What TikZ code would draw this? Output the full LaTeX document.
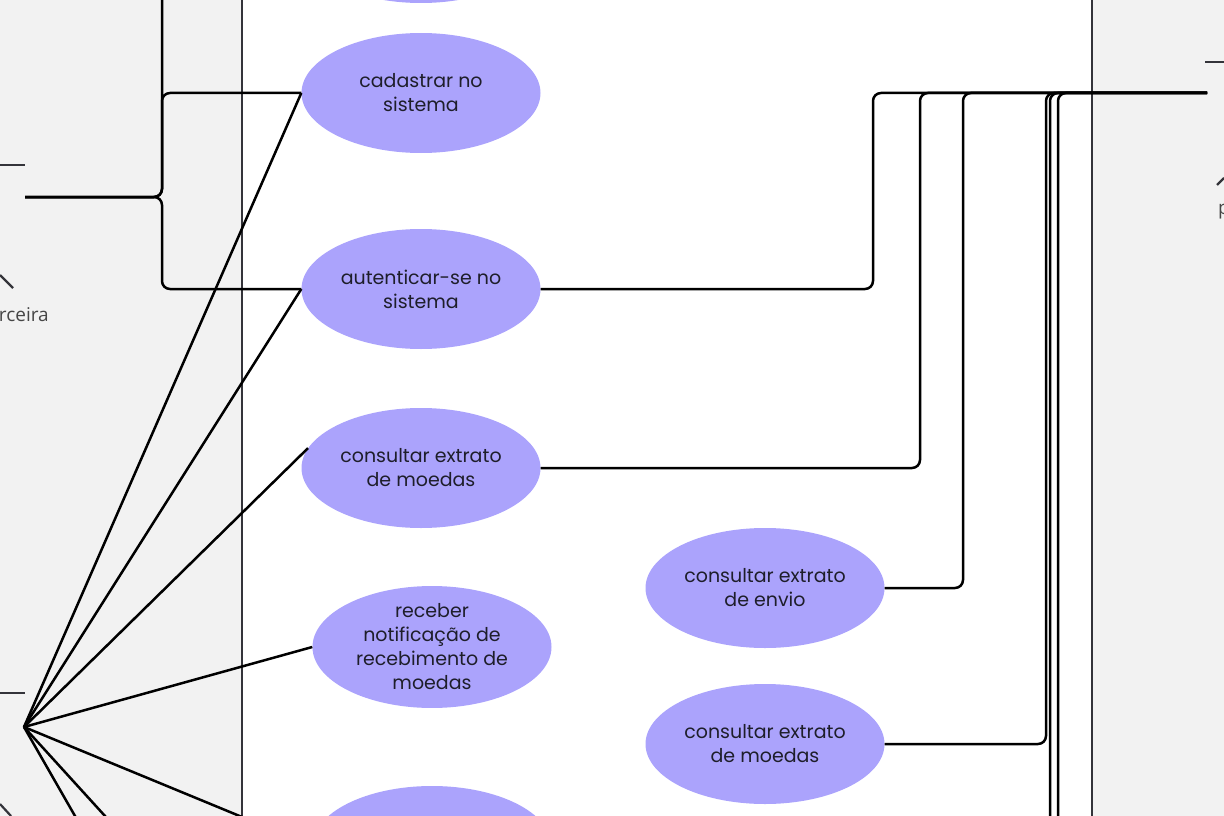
\documentclass[tikz,border=0pt]{standalone}
\usepackage{fontspec}
\setmainfont{Poppins}
\newfontfamily\atorfont{Open Sans}
\usepackage{tikz}
\usetikzlibrary{calc,positioning,shapes.geometric}
\definecolor{color1}{RGB}{171,163,252}
\definecolor{panel}{RGB}{242,242,242}
\definecolor{borda}{RGB}{52,52,58}
\definecolor{texto}{RGB}{30,30,42}
\definecolor{rotulo}{RGB}{70,70,70}
\tikzset{%
  % Specifications for style of nodes:
  usecase/.style = {ellipse, fill=color1, draw=none,
    minimum width=239pt,
    minimum height=120pt,
    inner sep=0pt, align=center, text=texto,
    font=\fontsize{19}{24}\selectfont},
  ator/.style = {inner sep=0pt, text=rotulo,
    font=\atorfont\fontsize{19}{22}\selectfont},
  % Specifications for style of lines:
  conn/.style = {draw=black, line width=2.5pt, rounded corners=8pt},
  stick/.style = {draw=borda, line width=2.2pt},
  limite/.style = {draw=borda, line width=2.2pt},
}

\begin{document}
\begin{tikzpicture}[x=1pt,y=-1pt]
        \useasboundingbox (0,0) rectangle (1224,816);
        % Panels of the actors
        \fill[panel] (0,0) rectangle (242,816);
        \fill[panel] (1092,0) rectangle (1224,816);
        \draw[limite] (242,0) -- (242,816);
        \draw[limite] (1092,0) -- (1092,816);
        % Actors (only parts are seen)
        \draw[stick] (0,165) -- (25,165);
        \draw[stick] (0,275) -- (13,288);
        \node(NomeA)[ator,anchor=east] at (49,315) {rceira};
        \draw[stick] (0,693) -- (25,693);
        \draw[stick] (0,804) -- (11,816);
        \draw[stick] (1205,62) -- (1224,62);
        \draw[stick] (1217,185) -- (1224,178);
        \node(NomeC)[ator,anchor=west] at (1218,212) {p};
        \coordinate (Ator1) at (25,197);
        \coordinate (Ator2) at (24,727);
        \coordinate (Ator3) at (1207,93);
        \coordinate (Baixo1) at (126,905);
        \coordinate (Baixo2) at (186,905);
        \coordinate (Baixo3) at (885,900);
        \coordinate (Baixo4) at (885,1000);
        % Specification of nodes (position, etc.)
        \node(Topo)[usecase] at (421,-57) {};
        \node(Cad)[usecase] at (421,93) {cadastrar no\\ sistema};
        \node(Aut)[usecase] at (421,289) {autenticar-se no\\ sistema};
        \node(ExtMoedas)[usecase] at (421,468) {consultar extrato\\ de moedas};
        \node(Notif)[usecase] at (432,647) {receber\\ notificação de\\ recebimento de\\ moedas};
        \node(Prox)[usecase] at (432,846) {};
        \node(ExtEnvio)[usecase] at (765,588) {consultar extrato\\ de envio};
        \node(ExtMoedasB)[usecase] at (765,744) {consultar extrato\\ de moedas};
        % Connectors of the first actor
        \draw[conn] (Ator1) -- (162,197) |- (Topo.west);
        \draw[conn] (Ator1) -- (162,197) |- (Cad.west);
        \draw[conn] (Ator1) -- (162,197) |- (Aut.west);
        % Connectors of the second actor
        \draw[conn] (Ator2) -- (Cad.west);
        \draw[conn] (Ator2) -- (Aut.west);
        \draw[conn] (Ator2) -- (ExtMoedas.170);
        \draw[conn] (Ator2) -- (Notif.west);
        \draw[conn] (Ator2) -- (Prox.west);
        \draw[conn] (Ator2) -- (Baixo1);
        \draw[conn] (Ator2) -- (Baixo2);
        % Connectors of the third actor
        \draw[conn] (Aut.east) -| (873,93) -- (Ator3);
        \draw[conn] (ExtMoedas.east) -| (920,93) -- (Ator3);
        \draw[conn] (ExtEnvio.east) -| (963,93) -- (Ator3);
        \draw[conn] (ExtMoedasB.east) -| (1046,93) -- (Ator3);
        \draw[conn] (Baixo3) -| (1050,93) -- (Ator3);
        \draw[conn] (Baixo4) -| (1058,93) -- (Ator3);
    \end{tikzpicture}
\end{document}
